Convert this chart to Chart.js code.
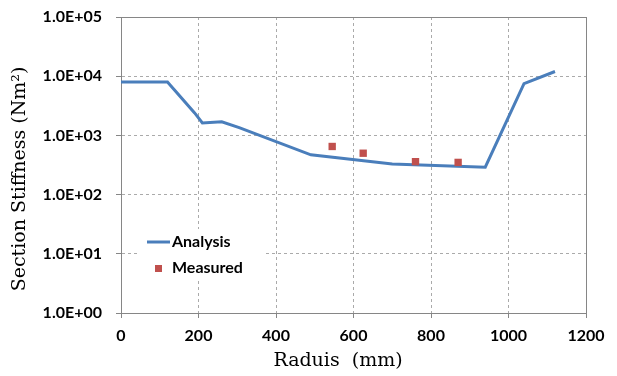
<!DOCTYPE html>
<html>
<head>
<meta charset="utf-8">
<script src="https://cdn.jsdelivr.net/npm/chart.js@4/dist/chart.umd.min.js"></script>
<style>
  html, body { margin: 0; padding: 0; background: #ffffff; }
  #wrap { width: 617px; height: 376px; position: relative; }
</style>
</head>
<body>
<div id="wrap"><canvas id="c" width="617" height="376"></canvas></div>
<script>
// ---- Data ----
const analysisRadius = [0, 120, 190, 210, 260, 305, 490, 700, 940, 1040, 1120];
const analysisStiffness = [8000, 8000, 2400, 1620, 1700, 1350, 470, 330, 290, 7500, 12000];
const measuredRadius = [545, 625, 760, 870];
const measuredStiffness = [650, 500, 360, 350];
const seriesNames = ["Analysis", "Measured"];
const yTickValues = [1, 10, 100, 1000, 10000, 100000];
const yTickLabels = ["1.0E+00", "1.0E+01", "1.0E+02", "1.0E+03", "1.0E+04", "1.0E+05"];
const xTickValues = [0, 200, 400, 600, 800, 1000, 1200];
const xTitle = "Raduis  (mm)";
const yTitle = "Section Stiffness (Nm\u00B2)";

const BLUE = "rgb(74,126,187)";
const RED = "rgb(192,80,77)";
const GRID = "rgb(170,170,170)";
const BORDER = "rgb(134,134,134)";
const TICKFONT = { family: "Lato", size: 16, weight: "bold" };
const TITLEFONT = "19px 'DejaVu Serif'";

const analysisPts = analysisRadius.map((x, i) => ({ x: x, y: analysisStiffness[i] }));
const measuredPts = measuredRadius.map((x, i) => ({ x: x, y: measuredStiffness[i] }));

const frame = {
  id: "frame",
  beforeDatasetsDraw(chart) {
    const a = chart.chartArea, ctx = chart.ctx;
    ctx.save();
    ctx.strokeStyle = BORDER;
    ctx.lineWidth = 1;
    ctx.strokeRect(Math.round(a.left) + 0.5, Math.round(a.top) + 0.5,
                   Math.round(a.right - a.left), Math.round(a.bottom - a.top));
    ctx.restore();
  }
};

const titles = {
  id: "titles",
  afterDraw(chart) {
    const ctx = chart.ctx;
    const a = chart.chartArea;
    ctx.save();
    ctx.fillStyle = "#000000";
    ctx.font = TITLEFONT;
    ctx.textAlign = "center";
    ctx.textBaseline = "middle";
    ctx.fillText(xTitle, a.left + 217, a.bottom + 48);
    ctx.translate(20, a.top + 162);
    ctx.rotate(-Math.PI / 2);
    ctx.fillText(yTitle, 0, 0);
    ctx.restore();
  }
};

const legendBox = {
  id: "legendBox",
  afterDatasetsDraw(chart) {
    const ctx = chart.ctx;
    const a = chart.chartArea;
    const x0 = a.left + 16, y0 = a.top + 212;
    ctx.save();
    ctx.fillStyle = "#ffffff";
    ctx.fillRect(x0, y0, 126, 52);
    const ds = chart.data.datasets;
    ctx.strokeStyle = ds[0].borderColor;
    ctx.lineWidth = 3;
    ctx.beginPath();
    ctx.moveTo(x0 + 10, y0 + 13);
    ctx.lineTo(x0 + 33, y0 + 13);
    ctx.stroke();
    ctx.fillStyle = "#000000";
    ctx.font = "bold 16px Lato";
    ctx.textBaseline = "middle";
    ctx.textAlign = "left";
    ctx.fillText(ds[0].label, x0 + 35, y0 + 13);
    ctx.fillStyle = ds[1].backgroundColor;
    ctx.fillRect(x0 + 18, y0 + 36, 7, 7);
    ctx.fillStyle = "#000000";
    ctx.fillText(ds[1].label, x0 + 35, y0 + 39);
    ctx.restore();
  }
};

new Chart(document.getElementById("c"), {
  type: "scatter",
  data: {
    datasets: [
      {
        label: seriesNames[0],
        data: analysisPts,
        showLine: true,
        borderColor: BLUE,
        backgroundColor: BLUE,
        borderWidth: 3,
        pointRadius: 0,
        pointHoverRadius: 0,
        tension: 0,
        order: 2
      },
      {
        label: seriesNames[1],
        data: measuredPts,
        showLine: false,
        pointStyle: "rect",
        pointRadius: 5.2,
        backgroundColor: RED,
        borderColor: RED,
        borderWidth: 0,
        order: 1
      }
    ]
  },
  options: {
    responsive: false,
    animation: false,
    devicePixelRatio: 1,
    layout: { padding: { left: 0, right: 31, top: 17, bottom: 0 } },
    plugins: {
      legend: { display: false },
      tooltip: { enabled: false }
    },
    scales: {
      x: {
        type: "linear",
        min: 0,
        max: 1200,
        afterFit(s) { s.height = 63; s.paddingLeft = 0; s.paddingRight = 0; },
        afterBuildTicks(s) { s.ticks = xTickValues.map(v => ({ value: v })); },
        ticks: {
          color: "#000000",
          font: TICKFONT,
          padding: 8,
          maxRotation: 0,
          callback: (v) => String(v)
        },
        grid: { color: GRID, tickColor: BORDER, tickLength: 5, drawTicks: true },
        border: { display: true, color: BORDER, width: 1, dash: [3, 3] },
        title: { display: false }
      },
      y: {
        type: "logarithmic",
        min: 1,
        max: 100000,
        afterFit(s) { s.width = 121; s.paddingTop = 0; s.paddingBottom = 0; },
        afterBuildTicks(s) { s.ticks = yTickValues.map(v => ({ value: v })); },
        ticks: {
          color: "#000000",
          font: TICKFONT,
          padding: 14,
          callback: (v) => yTickLabels[yTickValues.indexOf(v)]
        },
        grid: { color: GRID, tickColor: BORDER, tickLength: 5, drawTicks: true },
        border: { display: true, color: BORDER, width: 1, dash: [3, 3] },
        title: { display: false }
      }
    }
  },
  plugins: [frame, legendBox, titles]
});
</script>
</body>
</html>
